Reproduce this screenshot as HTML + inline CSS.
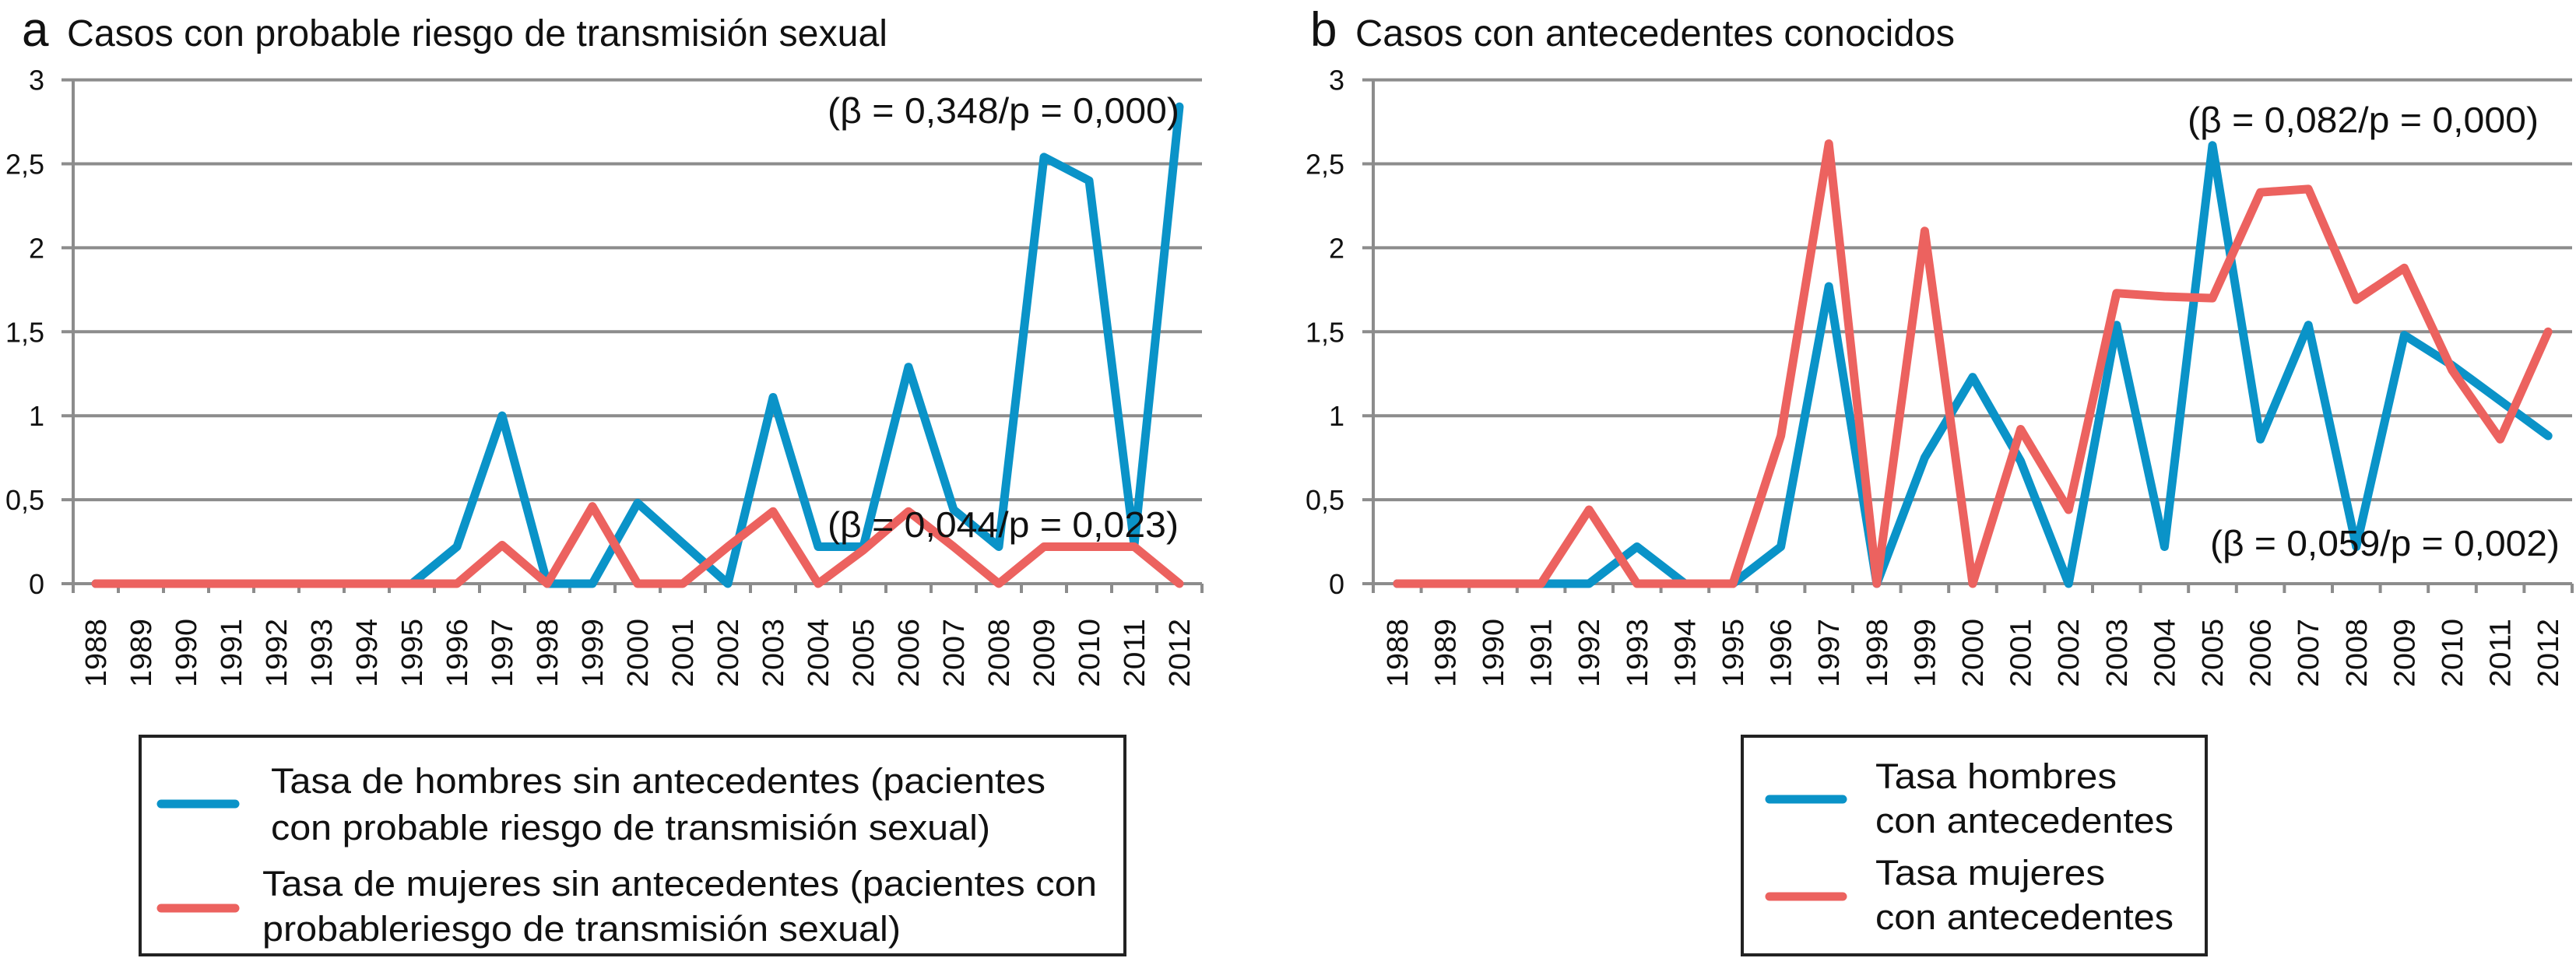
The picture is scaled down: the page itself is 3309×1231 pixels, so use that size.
<!DOCTYPE html>
<html><head><meta charset="utf-8">
<style>
html,body{margin:0;padding:0;background:#fff;}
svg{display:block;font-family:"Liberation Sans",sans-serif;}
</style></head>
<body>
<svg id="chart" width="3309" height="1231" viewBox="0 0 3309 1231" xmlns="http://www.w3.org/2000/svg">
<text x="28" y="59" font-size="62" fill="#111">a</text>
<text x="86" y="59" font-size="48" fill="#111" textLength="1054" lengthAdjust="spacingAndGlyphs">Casos con probable riesgo de transmisión sexual</text>
<text x="1683" y="59" font-size="62" fill="#111">b</text>
<text x="1741" y="59" font-size="48" fill="#111" textLength="770" lengthAdjust="spacingAndGlyphs">Casos con antecedentes conocidos</text>
<g id="pa"></g>
<g id="pb"></g>

<g>
<rect x="180" y="946" width="1265" height="281" fill="none" stroke="#222" stroke-width="4"/>
<line x1="207" y1="1033" x2="302" y2="1033" stroke="#0a93c8" stroke-width="11" stroke-linecap="round"/>
<text x="348" y="1019" font-size="45" fill="#111" textLength="995" lengthAdjust="spacingAndGlyphs">Tasa de hombres sin antecedentes (pacientes</text>
<text x="348" y="1079" font-size="45" fill="#111" textLength="924" lengthAdjust="spacingAndGlyphs">con probable riesgo de transmisión sexual)</text>
<line x1="207" y1="1167" x2="302" y2="1167" stroke="#ec625f" stroke-width="11" stroke-linecap="round"/>
<text x="337" y="1151" font-size="45" fill="#111" textLength="1072" lengthAdjust="spacingAndGlyphs">Tasa de mujeres sin antecedentes (pacientes con</text>
<text x="337" y="1209" font-size="45" fill="#111" textLength="820" lengthAdjust="spacingAndGlyphs">probableriesgo de transmisión sexual)</text>
</g>
<g>
<rect x="2238" y="946" width="596" height="281" fill="none" stroke="#222" stroke-width="4"/>
<line x1="2273" y1="1027" x2="2367" y2="1027" stroke="#0a93c8" stroke-width="11" stroke-linecap="round"/>
<text x="2409" y="1013" font-size="45" fill="#111" textLength="310" lengthAdjust="spacingAndGlyphs">Tasa hombres</text>
<text x="2409" y="1070" font-size="45" fill="#111" textLength="383" lengthAdjust="spacingAndGlyphs">con antecedentes</text>
<line x1="2273" y1="1152" x2="2367" y2="1152" stroke="#ec625f" stroke-width="11" stroke-linecap="round"/>
<text x="2409" y="1137" font-size="45" fill="#111" textLength="295" lengthAdjust="spacingAndGlyphs">Tasa mujeres</text>
<text x="2409" y="1194" font-size="45" fill="#111" textLength="383" lengthAdjust="spacingAndGlyphs">con antecedentes</text>
</g>
</svg>
<script>
const years = ["1988","1989","1990","1991","1992","1993","1994","1995","1996","1997","1998","1999","2000","2001","2002","2003","2004","2005","2006","2007","2008","2009","2010","2011","2012"];
const yTicks = [0,0.5,1,1.5,2,2.5,3];
const yTickLabels = ["0","0,5","1","1,5","2","2,5","3"];
const aMen = [0,0,0,0,0,0,0,0,0.22,1.0,0,0,0.48,0.24,0,1.11,0.22,0.22,1.29,0.44,0.22,2.54,2.4,0.23,2.84];
const aWomen = [0,0,0,0,0,0,0,0,0,0.23,0,0.46,0,0,0.22,0.43,0,0.2,0.43,0.22,0,0.22,0.22,0.22,0];
const bMen = [0,0,0,0,0,0.22,0,0,0.22,1.77,0,0.75,1.23,0.73,0,1.54,0.22,2.61,0.86,1.54,0.22,1.48,1.3,1.09,0.88];
const bWomen = [0,0,0,0,0.44,0,0,0,0.88,2.62,0,2.1,0,0.92,0.44,1.73,1.71,1.7,2.33,2.35,1.69,1.88,1.27,0.86,1.5];
const annotA = ["(β = 0,348/p = 0,000)","(β = 0,044/p = 0,023)"];
const annotB = ["(β = 0,082/p = 0,000)","(β = 0,059/p = 0,002)"];

const NS="http://www.w3.org/2000/svg";
function mk(parent,tag,attrs,text){const e=document.createElementNS(NS,tag);for(const k in attrs)e.setAttribute(k,attrs[k]);if(text!==undefined)e.textContent=text;parent.appendChild(e);return e;}

function drawPanel(g, cfg, men, women, annots, prefix){
  const x0=cfg.x0, step=cfg.step, yTop=102.6, yBot=750, yMax=3;
  const xs = i => x0 + step*(i+0.5);
  const ys = v => yBot - (v/yMax)*(yBot-yTop);
  const xEnd = x0 + step*years.length;
  yTicks.forEach((t,i)=>{
    const gl=mk(g,'line',{x1:cfg.tickL,x2:xEnd,y1:ys(t),y2:ys(t),stroke:'#8c8c8c','stroke-width':4});
    
    
    const tl=mk(g,'text',{x:cfg.labR,y:ys(t)+13,'font-size':36,'text-anchor':'end',fill:'#111'},yTickLabels[i]);
    
    
  });
  const ax=mk(g,'line',{x1:x0,x2:x0,y1:yTop,y2:yBot+12,stroke:'#8c8c8c','stroke-width':4});
  
  
  for(let i=0;i<=years.length;i++){
    const tk=mk(g,'line',{x1:x0+step*i,x2:x0+step*i,y1:yBot,y2:yBot+12,stroke:'#8c8c8c','stroke-width':4});
    
    
  }
  years.forEach((yr,i)=>{
    const cx=xs(i)+13;
    const t=mk(g,'text',{x:0,y:0,'font-size':38,'text-anchor':'end',fill:'#111',transform:'translate('+cx+',795) rotate(-90)',textLength:88,lengthAdjust:'spacingAndGlyphs'},yr);
    
    
  });
  const pts = arr => arr.map((v,i)=>xs(i).toFixed(1)+','+ys(v).toFixed(1)).join(' ');
  const lm=mk(g,'polyline',{points:pts(men),fill:'none',stroke:'#0a93c8','stroke-width':11,'stroke-linejoin':'round','stroke-linecap':'round'});
  
  
  const lw=mk(g,'polyline',{points:pts(women),fill:'none',stroke:'#ec625f','stroke-width':11,'stroke-linejoin':'round','stroke-linecap':'round'});
  
  
  cfg.ann.forEach((a,i)=>{
    const t=mk(g,'text',{x:a.x,y:a.y,'font-size':46,fill:'#111',textLength:a.w,lengthAdjust:'spacingAndGlyphs'},annots[i]);
    
    
  });
}
drawPanel(document.getElementById('pa'),{x0:94,step:58,tickL:79,labR:57,ann:[{x:1063,y:158,w:452},{x:1063,y:690,w:451}]},aMen,aWomen,annotA,'panel-a');
drawPanel(document.getElementById('pb'),{x0:1764,step:61.6,tickL:1750,labR:1727,ann:[{x:2810,y:170,w:451},{x:2839,y:714,w:449}]},bMen,bWomen,annotB,'panel-b');
</script>
</body></html>
